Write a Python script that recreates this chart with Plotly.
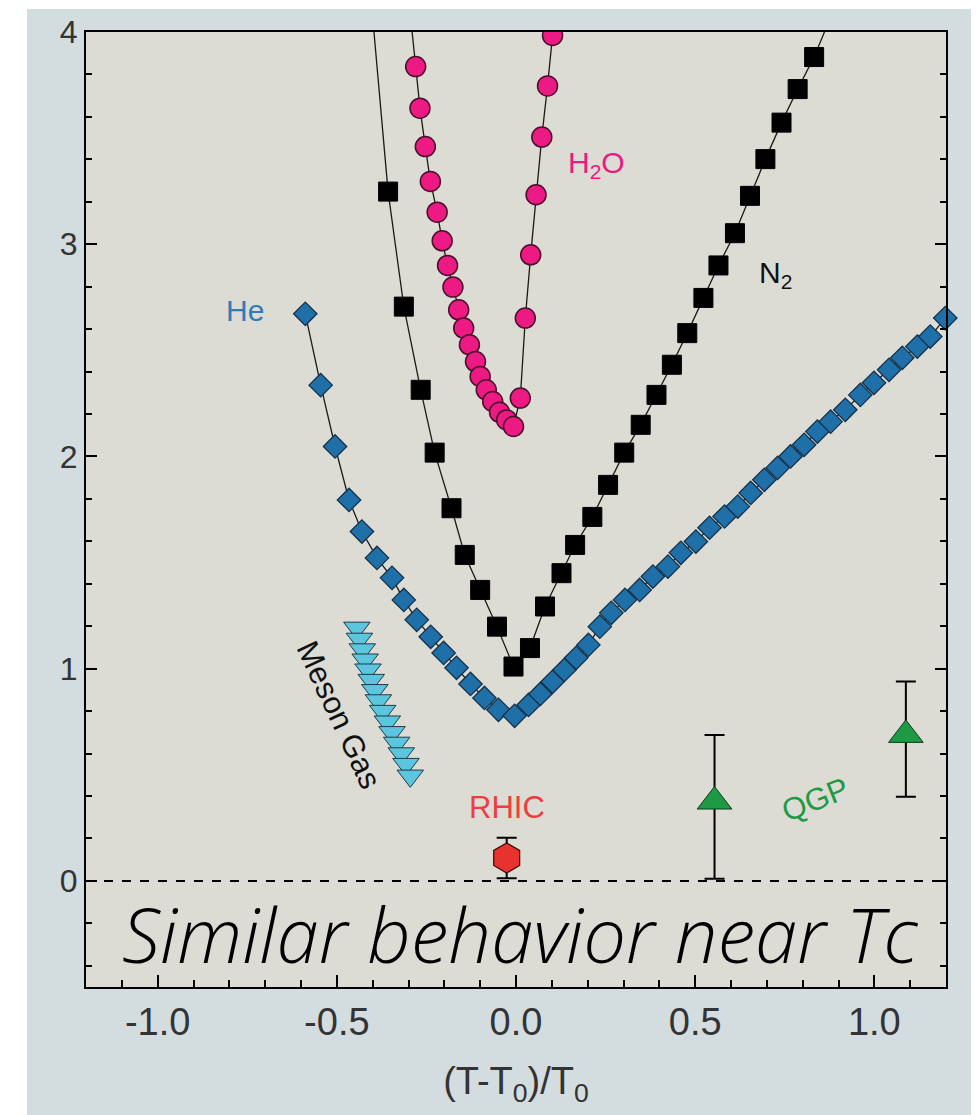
import plotly.graph_objects as go

# ---------------- data ----------------
he_x = [-0.588, -0.545, -0.505, -0.466, -0.430, -0.388, -0.346, -0.313, -0.277, -0.238,
        -0.202, -0.166, -0.127, -0.088, -0.049, -0.004,
        0.035, 0.068, 0.102, 0.135, 0.168, 0.202, 0.234, 0.266, 0.304, 0.345,
        0.382, 0.424, 0.460, 0.502, 0.540, 0.582, 0.619, 0.655, 0.693, 0.730,
        0.766, 0.804, 0.841, 0.878, 0.919, 0.961, 0.999, 1.041, 1.078, 1.120,
        1.156, 1.198]
he_y = [2.672, 2.336, 2.047, 1.795, 1.646, 1.522, 1.428, 1.324, 1.230, 1.150,
        1.074, 1.004, 0.928, 0.862, 0.806, 0.778,
        0.829, 0.881, 0.938, 0.994, 1.051, 1.112, 1.198, 1.263, 1.324, 1.371,
        1.434, 1.481, 1.546, 1.599, 1.664, 1.717, 1.764, 1.828, 1.890, 1.946,
        2.000, 2.055, 2.117, 2.164, 2.220, 2.290, 2.347, 2.408, 2.465, 2.518,
        2.565, 2.652]

n2_x = [-0.357, -0.313, -0.266, -0.227, -0.180, -0.143, -0.100, -0.053, -0.007,
        0.039, 0.081, 0.127, 0.165, 0.213, 0.257, 0.302, 0.348, 0.392, 0.435,
        0.478, 0.523, 0.565, 0.611, 0.653, 0.696, 0.741, 0.786, 0.832]
n2_y = [3.248, 2.706, 2.314, 2.018, 1.756, 1.536, 1.371, 1.198, 1.010,
        1.097, 1.293, 1.450, 1.583, 1.715, 1.866, 2.018, 2.149, 2.290, 2.432,
        2.581, 2.747, 2.900, 3.052, 3.228, 3.401, 3.573, 3.731, 3.882]
# curve continues past the top of the frame
n2_tail_left = (-0.399, 4.05)
n2_tail_right = (0.873, 4.05)

h2o_x = [-0.280, -0.268, -0.253, -0.239, -0.220, -0.206, -0.191, -0.176, -0.160,
         -0.146, -0.130, -0.113, -0.100, -0.083, -0.065, -0.046, -0.026, -0.007,
         0.012, 0.026, 0.041, 0.056, 0.072, 0.088, 0.102]
h2o_y = [3.837, 3.641, 3.460, 3.296, 3.151, 3.016, 2.900, 2.798, 2.691,
         2.605, 2.526, 2.447, 2.377, 2.314, 2.259, 2.208, 2.172, 2.141,
         2.275, 2.652, 2.950, 3.233, 3.505, 3.746, 3.984]
h2o_tail_left = (-0.296, 4.10)

meson_x = [-0.444, -0.437, -0.429, -0.421, -0.413, -0.404, -0.394, -0.384,
           -0.372, -0.359, -0.346, -0.333, -0.320, -0.307, -0.295]
meson_y = [1.192, 1.140, 1.090, 1.042, 0.995, 0.946, 0.898, 0.850,
           0.800, 0.750, 0.700, 0.650, 0.600, 0.550, 0.495]

rhic_x = [-0.026]
rhic_y = [0.108]
rhic_err = [0.095]

qgp_x = [0.554, 1.088]
qgp_y = [0.374, 0.688]
qgp_err_plus = [0.314, 0.251]
qgp_err_minus = [0.364, 0.291]

x_range = [-1.2, 1.2]
y_range = [-0.5, 4.0]
x_ticks = [-1.0, -0.5, 0.0, 0.5, 1.0]
x_ticklabels = ["-1.0", "-0.5", "0.0", "0.5", "1.0"]
y_ticks = [0, 1, 2, 3, 4]
y_ticklabels = ["0", "1", "2", "3", "4"]

# ---------------- styling ----------------
OUTER = "#D3DCDF"
INNER = "#DCDCD4"
HE_C = "#1F6FA8"
H2O_C = "#EC1A82"
MESON_C = "#5CC6DF"
RHIC_C = "#E8322D"
QGP_C = "#1E9A45"

fig = go.Figure()

# connecting curves
fig.add_trace(go.Scatter(x=he_x, y=he_y, mode="lines",
                         line=dict(color="#1a1a1a", width=1.3), hoverinfo="skip"))
fig.add_trace(go.Scatter(x=[n2_tail_left[0]] + n2_x + [n2_tail_right[0]],
                         y=[n2_tail_left[1]] + n2_y + [n2_tail_right[1]],
                         mode="lines", line=dict(color="#1a1a1a", width=1.3), hoverinfo="skip"))
fig.add_trace(go.Scatter(x=[h2o_tail_left[0]] + h2o_x, y=[h2o_tail_left[1]] + h2o_y,
                         mode="lines", line=dict(color="#1a1a1a", width=1.3), hoverinfo="skip"))

# markers
fig.add_trace(go.Scatter(x=n2_x, y=n2_y, mode="markers",
                         marker=dict(symbol="square", size=19, color="black",
                                     line=dict(color="black", width=1))))
fig.add_trace(go.Scatter(x=h2o_x, y=h2o_y, mode="markers",
                         marker=dict(symbol="circle", size=20, color=H2O_C,
                                     line=dict(color="#4a0f2c", width=1.5))))
fig.add_trace(go.Scatter(x=he_x, y=he_y, mode="markers", cliponaxis=False,
                         marker=dict(symbol="diamond", size=18, color=HE_C,
                                     line=dict(color="#15324a", width=1.3))))
fig.add_trace(go.Scatter(x=meson_x, y=meson_y, mode="markers",
                         marker=dict(symbol="triangle-down", size=23, color=MESON_C,
                                     line=dict(color="#1d3b48", width=1))))
fig.add_trace(go.Scatter(x=rhic_x, y=rhic_y, mode="markers",
                         error_y=dict(type="data", array=rhic_err, color="black",
                                      thickness=2, width=10),
                         marker=dict(symbol="hexagon", size=30, color=RHIC_C,
                                     line=dict(color="#3a0a0a", width=1.2))))
fig.add_trace(go.Scatter(x=qgp_x, y=qgp_y, mode="markers",
                         error_y=dict(type="data", symmetric=False, array=qgp_err_plus,
                                      arrayminus=qgp_err_minus, color="black",
                                      thickness=2, width=10),
                         marker=dict(symbol="triangle-up", size=30, color=QGP_C,
                                     line=dict(color="#0d3a1c", width=1))))

# background panels and zero line
shapes = [
    dict(type="rect", xref="paper", yref="paper", x0=-0.0686, x1=1.029, y0=-0.14, y1=1.024,
         fillcolor=OUTER, line=dict(width=0), layer="below"),
    dict(type="rect", xref="paper", yref="paper", x0=0, x1=1, y0=0, y1=1,
         fillcolor=INNER, line=dict(width=0), layer="below"),
    dict(type="line", xref="paper", yref="y", x0=0, x1=1, y0=0, y1=0,
         line=dict(color="black", width=2, dash="dash")),
]

lab_font = "Liberation Sans, Arial, sans-serif"
annotations = [
    dict(x=-0.757, y=2.69, text="He", font=dict(family=lab_font, size=30, color="#2E7DB8")),
    dict(x=0.224, y=3.374, text="H<sub>2</sub>O", font=dict(family=lab_font, size=30, color=H2O_C)),
    dict(x=0.725, y=2.856, text="N<sub>2</sub>", font=dict(family=lab_font, size=30, color="#111111")),
    dict(x=-0.024, y=0.344, text="RHIC", font=dict(family=lab_font, size=31, color="#F03C3C")),
    dict(x=0.836, y=0.382, text="QGP", textangle=-22,
         font=dict(family=lab_font, size=31, color=QGP_C)),
    dict(x=-0.494, y=0.778, text="Meson Gas", textangle=65,
         font=dict(family=lab_font, size=31, color="#111111")),
    dict(x=0.010, y=-0.25, text="Similar behavior near Tc",
         font=dict(family="Open Sans, DejaVu Sans, sans-serif", size=76, color="black",
                   style="italic", weight=300)),
]
for a in annotations:
    a.update(xref="x", yref="y", showarrow=False)

fig.update_layout(
    width=979, height=1115,
    margin=dict(l=86, r=33, t=32, b=128),
    paper_bgcolor="white", plot_bgcolor=INNER,
    showlegend=False,
    shapes=shapes, annotations=annotations,
    xaxis=dict(range=x_range, tickvals=x_ticks, ticktext=x_ticklabels,
               ticks="inside", ticklen=12, tickwidth=2, tickcolor="black",
               showline=True, linecolor="black", linewidth=2, mirror=True,
               showgrid=False, zeroline=False,
               tickfont=dict(family="Liberation Sans Narrow, Arial Narrow, sans-serif", size=38, color="#333333"),
               minor=dict(dtick=0.1, tick0=0, ticks="inside", ticklen=7, tickwidth=2, tickcolor="black"),
               title=dict(text="(T-T<sub>0</sub>)/T<sub>0</sub>", standoff=26,
                          font=dict(family="Liberation Sans Narrow, Arial Narrow, sans-serif", size=38, color="#333333"))),
    yaxis=dict(range=y_range, tickvals=y_ticks, ticktext=y_ticklabels,
               ticks="inside", ticklen=11, tickwidth=2, tickcolor="black",
               showline=True, linecolor="black", linewidth=2, mirror="ticks",
               showgrid=False, zeroline=False,
               tickfont=dict(family="Liberation Sans, Arial, sans-serif", size=32, color="#333333"),
               minor=dict(dtick=0.2, tick0=0, ticks="inside", ticklen=6, tickwidth=2, tickcolor="black")),
)

fig.write_html("out.html")
